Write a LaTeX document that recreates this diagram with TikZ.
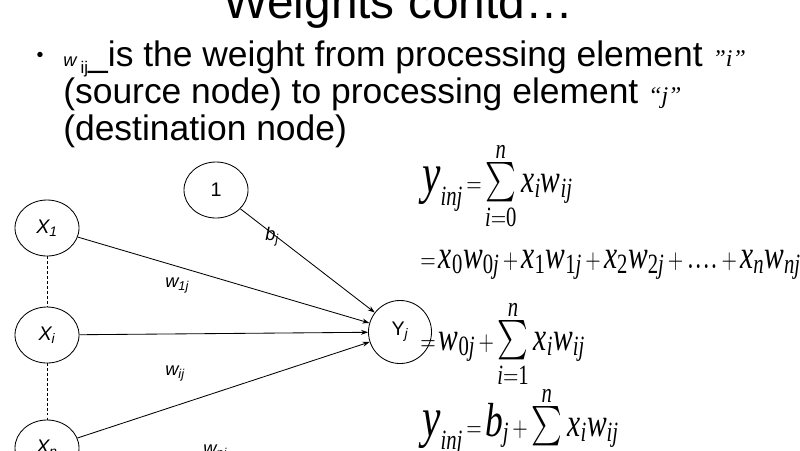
\documentclass[tikz,border=0pt]{standalone}
\usepackage[no-math]{fontspec}
\usepackage{graphicx}
\usepackage{exscale}
\setmainfont{Liberation Sans}
\newfontfamily\serifit{Liberation Serif}[NFSSFamily=lserif]
\DeclareMathAlphabet{\mathtm}{TU}{lserif}{m}{it}
\DeclareMathAlphabet{\mathtmup}{TU}{lserif}{m}{n}
\usetikzlibrary{shapes.geometric,arrows.meta}

\newcommand{\pl}{\mathbin{\scriptstyle+}}
\newcommand{\eqs}{\mathrel{\scriptstyle=}}
\newcommand{\bigsym}[2]{\scalebox{#1}{$\mathtm{#2}$}}
\newcommand{\sumlim}[2]{\sum\limits_{\raisebox{3pt}{$\scriptstyle\mathtm{#1}$}}^{\raisebox{-3pt}{$\scriptstyle\mathtm{#2}$}}}
\newcommand{\tallmath}[1]{\scalebox{1}[1.35]{$\medmuskip=2mu\thickmuskip=2mu #1$}}
\newcommand{\quoted}[1]{{\serifit\itshape\fontsize{17}{17}\selectfont #1}}

\begin{document}
\begin{tikzpicture}[x=0.025cm, y=-0.025cm,
		unit/.style={ellipse, draw, line width=0.6pt, minimum width=1.6cm, minimum height=1.4cm, inner sep=0pt, font=\fontsize{14}{14}\selectfont},
		outunit/.style={circle, draw, line width=0.6pt, minimum size=1.575cm, inner sep=0pt, font=\fontsize{14}{14}\selectfont},
		conn/.style={line width=0.6pt, -{Stealth[length=5pt, width=3.5pt]}},
		dotline/.style={line width=0.6pt, dash pattern=on 2pt off 1.5pt},
		wlabel/.style={anchor=base west, inner sep=0pt, font=\fontsize{13}{13}\selectfont\itshape},
		txt/.style={anchor=base west, inner sep=0pt, font=\fontsize{25.2}{26}\selectfont},
		eq/.style={anchor=base west, inner sep=0pt, font=\fontsize{21}{21}\selectfont}]

			\useasboundingbox (0,0) rectangle (800,450);

			% heading and bullet
			\node[anchor=base] (title) at (398,18) {\fontsize{34}{34}\selectfont Weights contd…};
			\node (dot) at (40,57) {\fontsize{14}{14}\selectfont\textbullet};
			\node[txt] (line1) at (63,66) {{\fontsize{13}{13}\selectfont\itshape w}\hspace{3pt}\raisebox{-5.5pt}{\fontsize{12}{12}\selectfont ij}\_is the weight from processing element \quoted{”i”}};
			\node[txt] (line2) at (63,103) {(source node) to processing element \quoted{“j”}};
			\node[txt] (line3) at (63,140) {(destination node)};

			% units
			\node[unit] (one) at (216,190) {1};
			\node[unit] (X1) at (47,228) {\itshape X\textsubscript{1}};
			\node[unit] (Xi) at (47,335) {\itshape X\textsubscript{i}};
			\node[unit] (Xn) at (47,448) {\itshape X\textsubscript{n}};
			\node[outunit] (Yj) at (400,332) {Y\textsubscript{\itshape j}};

			\draw[dotline] (X1) -- (Xi);
			\draw[dotline] (Xi) -- (Xn);
			\draw[conn] (one) -- (Yj);
			\draw[conn] (X1) -- (Yj);
			\draw[conn] (Xi) -- (Yj);
			\draw[conn] (Xn) -- (Yj);

			\node[wlabel] (bj) at (265,240) {b\textsubscript{j}};
			\node[wlabel] (w1j) at (165,287) {w\textsubscript{1j}};
			\node[wlabel] (wij) at (165,375) {w\textsubscript{ij}};
			\node[wlabel] (wnj) at (203,454) {w\textsubscript{nj}};

			% equations
			\node[eq] (eq1) at (422,192) {\tallmath{\bigsym{1.4}{y}_{\mathtm{inj}} \eqs \sumlim{i=\mathtmup{0}}{n} \mathtm{x_i w_{ij}}}};
			\node[eq] (eq2) at (420,268) {\tallmath{\eqs \mathtm{x_{\mathtmup{0}} w_{\mathtmup{0}j}} \pl \mathtm{x_{\mathtmup{1}} w_{\mathtmup{1}j}} \pl \mathtm{x_{\mathtmup{2}} w_{\mathtmup{2}j}} \pl {....} \pl \mathtm{x_n w_{nj}}}};
			\node[eq] (eq3) at (420,350) {\tallmath{\eqs \mathtm{w_{\mathtmup{0}j}} \pl \sumlim{i=\mathtmup{1}}{n} \mathtm{x_i w_{ij}}}};
			\node[eq] (eq4) at (422,436) {\tallmath{\bigsym{1.4}{y}_{\mathtm{inj}} \eqs \bigsym{1.2}{b}_{\mathtm{j}} \pl \sumlim{i=\mathtmup{1}}{n} \mathtm{x_i w_{ij}}}};
		\end{tikzpicture}
\end{document}
